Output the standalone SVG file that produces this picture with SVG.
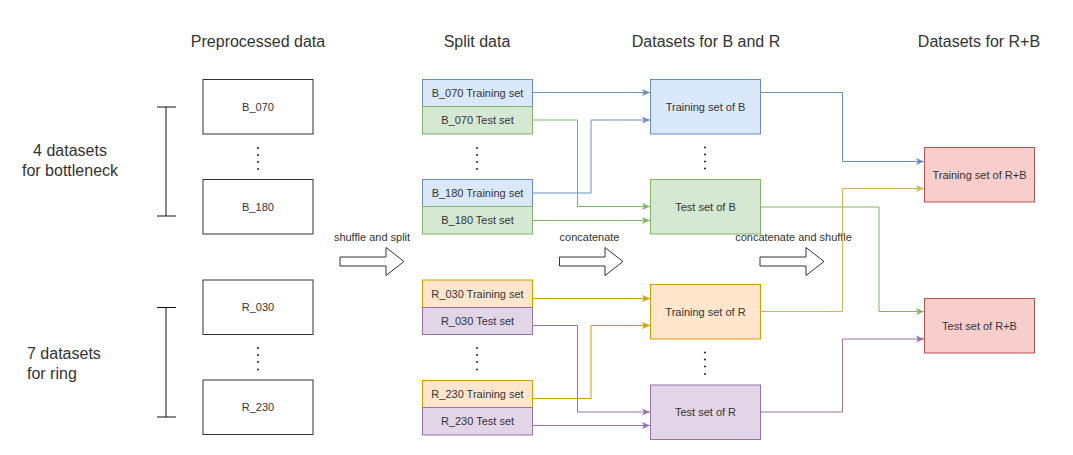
<svg xmlns="http://www.w3.org/2000/svg" width="1073" height="455" viewBox="0 0 1073 455">
<style>
text{font-family:"Liberation Sans",Arial,sans-serif;fill:#333}
.h{font-size:16px;text-anchor:middle}
.l{font-size:11px;text-anchor:middle}
.side{font-size:16px}
.plain{fill:#fff;stroke:#333;stroke-width:1}
.blue{fill:#dae8fc;stroke:#6c8ebf}
.green{fill:#d5e8d4;stroke:#82b366}
.orange{fill:#ffe6cc;stroke:#d79b00}
.purple{fill:#e1d5e7;stroke:#9673a6}
.red{fill:#f8cecc;stroke:#b85450}
.c{fill:none;stroke-width:1}
.big{fill:#fff;stroke:#333;stroke-width:1}
.dot{fill:#333}
</style>
<defs>
<marker id="aB" viewBox="0 0 8 8" refX="8" refY="4" markerWidth="8" markerHeight="8" markerUnits="userSpaceOnUse" orient="auto"><path d="M0,0.5 L8,4 L0,7.5 L2,4 z" fill="#6c8ebf"/></marker>
<marker id="aG" viewBox="0 0 8 8" refX="8" refY="4" markerWidth="8" markerHeight="8" markerUnits="userSpaceOnUse" orient="auto"><path d="M0,0.5 L8,4 L0,7.5 L2,4 z" fill="#82b366"/></marker>
<marker id="aO" viewBox="0 0 8 8" refX="8" refY="4" markerWidth="8" markerHeight="8" markerUnits="userSpaceOnUse" orient="auto"><path d="M0,0.5 L8,4 L0,7.5 L2,4 z" fill="#d79b00"/></marker>
<marker id="aY" viewBox="0 0 8 8" refX="8" refY="4" markerWidth="8" markerHeight="8" markerUnits="userSpaceOnUse" orient="auto"><path d="M0,0.5 L8,4 L0,7.5 L2,4 z" fill="#d6b656"/></marker>
<marker id="aP" viewBox="0 0 8 8" refX="8" refY="4" markerWidth="8" markerHeight="8" markerUnits="userSpaceOnUse" orient="auto"><path d="M0,0.5 L8,4 L0,7.5 L2,4 z" fill="#9673a6"/></marker>
</defs>

<g id="headers">
<text class="h" x="258" y="47">Preprocessed data</text>
<text class="h" x="477" y="47">Split data</text>
<text class="h" x="706" y="47">Datasets for B and R</text>
<text class="h" x="979" y="47">Datasets for R+B</text>
</g>

<g id="bracket-b">
<path d="M166,107 V216 M157,107 H176 M157,216 H176" stroke="#111" stroke-width="1" fill="none"/>
<text class="side" x="70" y="156" text-anchor="middle">4 datasets</text>
<text class="side" x="70" y="176" text-anchor="middle">for bottleneck</text>
</g>
<g id="bracket-r">
<path d="M166,307.5 V417 M157,307.5 H176 M157,417 H176" stroke="#111" stroke-width="1" fill="none"/>
<text class="side" x="27" y="359">7 datasets</text>
<text class="side" x="27" y="379">for ring</text>
</g>

<g id="B_070"><rect class="plain" x="203" y="79.5" width="110" height="54.5"/><text class="l" x="258" y="111">B_070</text></g>
<g id="B_180"><rect class="plain" x="203" y="179.5" width="110" height="54.5"/><text class="l" x="258" y="211">B_180</text></g>
<g id="R_030"><rect class="plain" x="203" y="280" width="110" height="54.5"/><text class="l" x="258" y="311">R_030</text></g>
<g id="R_230"><rect class="plain" x="203" y="380" width="110" height="54.5"/><text class="l" x="258" y="411">R_230</text></g>

<g id="dots">
<circle class="dot" cx="258" cy="148" r="1.1"/><circle class="dot" cx="258" cy="155" r="1.1"/><circle class="dot" cx="258" cy="162" r="1.1"/><circle class="dot" cx="258" cy="169" r="1.1"/>
<circle class="dot" cx="258" cy="348" r="1.1"/><circle class="dot" cx="258" cy="355" r="1.1"/><circle class="dot" cx="258" cy="362" r="1.1"/><circle class="dot" cx="258" cy="369.5" r="1.1"/>
<circle class="dot" cx="477" cy="148" r="1.1"/><circle class="dot" cx="477" cy="155" r="1.1"/><circle class="dot" cx="477" cy="162" r="1.1"/><circle class="dot" cx="477" cy="169" r="1.1"/>
<circle class="dot" cx="477" cy="348" r="1.1"/><circle class="dot" cx="477" cy="355" r="1.1"/><circle class="dot" cx="477" cy="362" r="1.1"/><circle class="dot" cx="477" cy="369.5" r="1.1"/>
<circle class="dot" cx="705" cy="147.5" r="1.1"/><circle class="dot" cx="705" cy="154.5" r="1.1"/><circle class="dot" cx="705" cy="161.5" r="1.1"/><circle class="dot" cx="705" cy="168.5" r="1.1"/>
<circle class="dot" cx="705" cy="352.5" r="1.1"/><circle class="dot" cx="705" cy="359.5" r="1.1"/><circle class="dot" cx="705" cy="366.5" r="1.1"/><circle class="dot" cx="705" cy="374" r="1.1"/>
</g>

<g id="B_070_train"><rect class="blue" x="422.5" y="79.5" width="110" height="27"/><text class="l" x="477.5" y="97">B_070 Training set</text></g>
<g id="B_070_test"><rect class="green" x="422.5" y="106.5" width="110" height="27.5"/><text class="l" x="477.5" y="124">B_070 Test set</text></g>
<g id="B_180_train"><rect class="blue" x="422.5" y="179.5" width="110" height="27"/><text class="l" x="477.5" y="197">B_180 Training set</text></g>
<g id="B_180_test"><rect class="green" x="422.5" y="206.5" width="110" height="27.5"/><text class="l" x="477.5" y="224">B_180 Test set</text></g>
<g id="R_030_train"><rect class="orange" x="422.5" y="280" width="110" height="27.5"/><text class="l" x="477.5" y="297.5">R_030 Training set</text></g>
<g id="R_030_test"><rect class="purple" x="422.5" y="307.5" width="110" height="27"/><text class="l" x="477.5" y="324.5">R_030 Test set</text></g>
<g id="R_230_train"><rect class="orange" x="422.5" y="380.5" width="110" height="27"/><text class="l" x="477.5" y="397.5">R_230 Training set</text></g>
<g id="R_230_test"><rect class="purple" x="422.5" y="407.5" width="110" height="27.5"/><text class="l" x="477.5" y="425">R_230 Test set</text></g>

<g id="train_B"><rect class="blue" x="650.5" y="79.5" width="110" height="54.5"/><text class="l" x="705.5" y="110.5">Training set of B</text></g>
<g id="test_B"><rect class="green" x="650.5" y="179.5" width="110" height="54.5"/><text class="l" x="705.5" y="210.5">Test set of B</text></g>
<g id="train_R"><rect class="orange" x="650.5" y="284.5" width="110" height="54.5"/><text class="l" x="705.5" y="315.5">Training set of R</text></g>
<g id="test_R"><rect class="purple" x="650.5" y="385" width="110" height="54.5"/><text class="l" x="705.5" y="416">Test set of R</text></g>

<g id="train_RB"><rect class="red" x="924.5" y="147.5" width="110" height="54.5"/><text class="l" x="979.5" y="178.5">Training set of R+B</text></g>
<g id="test_RB"><rect class="red" x="924.5" y="298.5" width="110" height="54.5"/><text class="l" x="979.5" y="329.5">Test set of R+B</text></g>

<g id="step-arrows">
<polygon class="big" points="340,257 386,257 386,247.5 404,261.5 386,275.5 386,266 340,266"/>
<text class="l" x="372" y="241">shuffle and split</text>
<polygon class="big" points="559.5,257 605,257 605,247.5 623,261.5 605,275.5 605,266 559.5,266"/>
<text class="l" x="589.5" y="241">concatenate</text>
<polygon class="big" points="760,257 806,257 806,247.5 824,261.5 806,275.5 806,266 760,266"/>
<text class="l" x="793.5" y="241">concatenate and shuffle</text>
</g>

<g id="connectors">
<path class="c" stroke="#6c8ebf" d="M532.5,92.5 H650" marker-end="url(#aB)"/>
<path class="c" stroke="#6c8ebf" d="M532.5,193 H591 V120 H650" marker-end="url(#aB)"/>
<path class="c" stroke="#82b366" d="M532.5,120 H577.5 V206.5 H650" marker-end="url(#aG)"/>
<path class="c" stroke="#82b366" d="M532.5,220.5 H650" marker-end="url(#aG)"/>
<path class="c" stroke="#d79b00" d="M532.5,298.5 H650" marker-end="url(#aO)"/>
<path class="c" stroke="#d79b00" d="M532.5,398.5 H591 V325.5 H650" marker-end="url(#aO)"/>
<path class="c" stroke="#9673a6" d="M532.5,325.5 H577.5 V412 H650" marker-end="url(#aP)"/>
<path class="c" stroke="#9673a6" d="M532.5,425.5 H650" marker-end="url(#aP)"/>
<path class="c" stroke="#6c8ebf" d="M760.5,92.5 H842.5 V161.5 H924" marker-end="url(#aB)"/>
<path class="c" stroke="#d6b656" d="M760.5,311.5 H842.5 V188.5 H924" marker-end="url(#aY)"/>
<path class="c" stroke="#82b366" d="M760.5,207 H879 V311.5 H924" marker-end="url(#aG)"/>
<path class="c" stroke="#9673a6" d="M760.5,412 H842.5 V339 H924" marker-end="url(#aP)"/>
</g>
</svg>
